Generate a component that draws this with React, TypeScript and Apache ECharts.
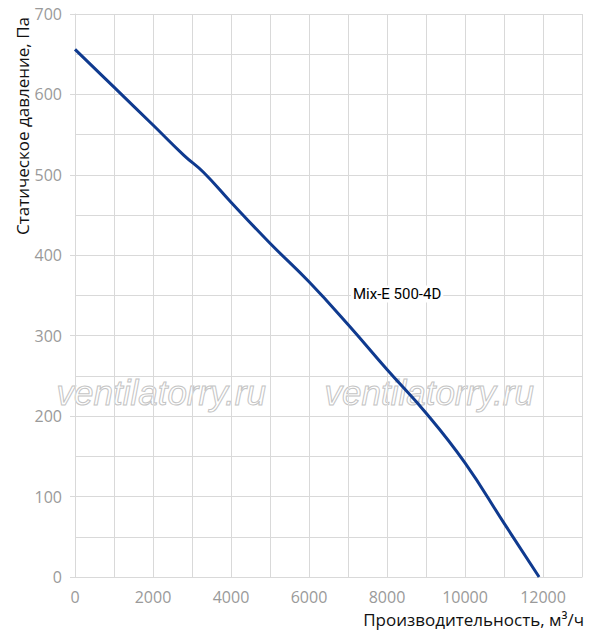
import React, { useEffect, useRef } from "react";
import * as echarts from "echarts";

const flowValues = [0, 1000, 2000, 2800, 3300, 4000, 5000, 6000, 7000, 8000, 9000, 10000, 11000, 11900];
const pressureValues = [656, 609, 562, 524, 503, 466, 415, 367, 314, 258, 204, 142, 67, 0];
const seriesName = "Mix-E 500-4D";
const xAxisTitle = "Производительность, м³/ч";
const yAxisTitle = "Статическое давление, Па";
const watermark = "ventilatorry.ru";

export default function App() {
  const ref = useRef<HTMLDivElement>(null);
  useEffect(() => {
    if (!ref.current) return;
    const chart = echarts.init(ref.current, undefined, { renderer: "svg" });
    const grid = "#d9d9d9";
    const font = "'Open Sans', 'Noto Sans', sans-serif";
    const wmStyle = {
      text: watermark,
      font: "italic 35px 'Liberation Sans', Arial, sans-serif",
      fill: "rgba(255,255,255,0)",
      stroke: "#c4c4c4",
      lineWidth: 1,
    };
    chart.setOption({
      animation: false,
      grid: { left: 75, right: 15, top: 14, bottom: 56 },
      xAxis: {
        type: "value",
        min: 0,
        max: 13000,
        interval: 1000,
        axisLine: { show: true, lineStyle: { color: grid } },
        axisTick: { show: false },
        splitLine: { show: true, lineStyle: { color: grid, width: 1 } },
        axisLabel: {
          color: "#9a9a9a",
          fontSize: 16,
          fontFamily: font,
          margin: 12,
          formatter: (v: number) => (v % 2000 === 0 && v <= 12000 ? String(v) : ""),
        },
      },
      yAxis: {
        type: "value",
        min: 0,
        max: 700,
        interval: 100,
        axisLine: { show: true, lineStyle: { color: grid } },
        axisTick: { show: true, length: 5, lineStyle: { color: grid } },
        splitLine: { show: true, lineStyle: { color: grid, width: 1 } },
        minorTick: { show: false, splitNumber: 2 },
        minorSplitLine: { show: true, lineStyle: { color: grid, width: 1 } },
        axisLabel: { color: "#9a9a9a", fontSize: 16, fontFamily: font, margin: 13 },
      },
      graphic: [
        { type: "text", left: 56, top: 374, z: 0, style: { ...wmStyle } },
        { type: "text", left: 324, top: 374, z: 0, style: { ...wmStyle } },
        {
          type: "text",
          x: 22,
          y: 126,
          rotation: Math.PI / 2,
          style: {
            text: yAxisTitle,
            font: "17px " + font,
            fill: "#111",
            textAlign: "center",
            textVerticalAlign: "middle",
          },
        },
        {
          type: "text",
          x: 584,
          y: 619,
          style: {
            text: xAxisTitle,
            font: "17px " + font,
            fill: "#111",
            textAlign: "right",
            textVerticalAlign: "middle",
          },
        },
        {
          type: "text",
          x: 351,
          y: 294,
          z: 20,
          style: {
            text: seriesName,
            font: "15px Roboto, sans-serif",
            fill: "#000",
            backgroundColor: "#fff",
            padding: [1, 2],
            textAlign: "left",
            textVerticalAlign: "middle",
          },
        },
      ],
      series: [
        {
          type: "line",
          name: seriesName,
          data: flowValues.map((x, i) => [x, pressureValues[i]]),
          smooth: 0.45,
          showSymbol: false,
          symbol: "none",
          lineStyle: { color: "#0f3a8f", width: 3 },
          z: 5,
        },
      ],
    });
    return () => chart.dispose();
  }, []);
  return (
    <div
      ref={ref}
      style={{ position: "fixed", left: 0, top: 0, width: 597, height: 633, background: "#fff" }}
    />
  );
}
